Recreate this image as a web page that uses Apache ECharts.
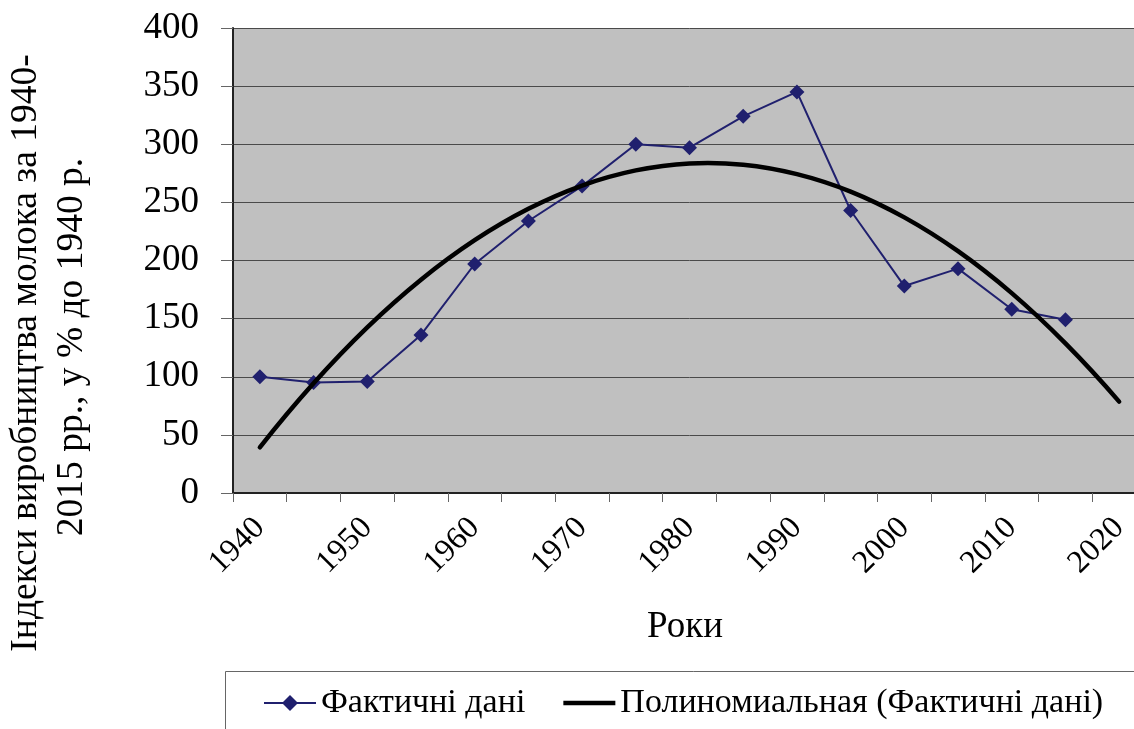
<!DOCTYPE html>
<html>
<head>
<meta charset="utf-8">
<script src="https://cdn.jsdelivr.net/npm/echarts@6/dist/echarts.min.js"></script>
<style>
html,body{margin:0;padding:0;overflow:hidden;background:#fff;}
</style>
</head>
<body>
<div id="main" style="width:1160px;height:729px"></div>
<script>
/* categories: 5-year steps, last one is the trend forecast */
var years = ['1940','1945','1950','1955','1960','1965','1970','1975','1980','1985','1990','1995','2000','2005','2010','2015','2020'];
/* actual indexes, % of 1940 */
var factValues = [100, 95, 96, 136, 197, 234, 264, 300, 297, 324, 345, 243, 178, 193, 158, 149, null];
/* polynomial trend */
var trendValues = [39.3, 94.4, 142.5, 183.5, 217.5, 244.5, 264.5, 277.5, 283.5, 282.4, 274.3, 259.3, 237.1, 208.0, 171.9, 128.7, 78.6];
/* y ticks */
var yMin = 0, yMax = 400, yStep = 50;

var factName = 'Фактичні дані';
var trendName = 'Полиномиальная (Фактичні дані)';
var serif = '"Liberation Serif", "DejaVu Serif", serif';

/* trend curve: cubic hermite through the trend points, placed by the axes */
var renderTrend = function(params, api){
	if(params.dataIndex!==0){
		return;
	}
	var pts = [];
	for (var i = 0; i < trendValues.length; i++) {
		pts.push(api.coord([i, trendValues[i]]));
	}
	var n = pts.length;
	var m = [];
	for (var i = 0; i < n; i++) {
		if (i == 0) {
			m.push((-3 * pts[0][1] + 4 * pts[1][1] - pts[2][1]) / 2);
		} else if (i == n - 1) {
			m.push((3 * pts[n-1][1] - 4 * pts[n-2][1] + pts[n-3][1]) / 2);
		} else {
			m.push((pts[i+1][1] - pts[i-1][1]) / 2);
		}
	}
	var d = 'M' + pts[0][0] + ',' + pts[0][1];
	for (var i = 0; i < n - 1; i++) {
		var h = pts[i+1][0] - pts[i][0];
		d += 'C' + (pts[i][0] + h / 3) + ',' + (pts[i][1] + m[i] / 3)
			+ ',' + (pts[i+1][0] - h / 3) + ',' + (pts[i+1][1] - m[i+1] / 3)
			+ ',' + pts[i+1][0] + ',' + pts[i+1][1];
	}
	return {
		type : 'path',
		shape : { pathData : d },
		style : { fill : 'none', stroke : '#000', lineWidth : 4.5, lineCap : 'round' }
	};
};

var chart = echarts.init(document.getElementById('main'));
var option = {
	animation : false,
	backgroundColor : '#ffffff',
	grid : {
		left : 233,
		top : 28,
		width : 913,
		height : 465,
		show : true,
		backgroundColor : '#c0c0c0',
		borderWidth : 0
	},
	legend : {
		left : 263,
		top : 683,
		padding : 0,
		itemWidth : 52,
		itemHeight : 20,
		itemGap : 38,
		textStyle : {
			fontFamily : serif,
			fontSize : 34,
			color : '#000',
			lineHeight : 40
		},
		data : [factName, { name : trendName, icon : 'path://M0,0H52V4.5H0Z' }]
	},
	xAxis : {
		type : 'category',
		data : years,
		boundaryGap : true,
		axisLine : {
			lineStyle : { color : '#222', width : 2 }
		},
		axisTick : {
			show : true,
			interval : 0,
			length : 9,
			lineStyle : { color : '#666', width : 1 }
		},
		axisLabel : {
			interval : 1,
			rotate : 45,
			margin : 30,
			fontFamily : serif,
			fontSize : 32,
			color : '#000'
		},
		splitLine : { show : false }
	},
	yAxis : {
		type : 'value',
		min : yMin,
		max : yMax,
		interval : yStep,
		axisLine : {
			show : true,
			lineStyle : { color : '#222', width : 2 }
		},
		axisTick : {
			show : true,
			length : 12,
			lineStyle : { color : '#666', width : 1 }
		},
		axisLabel : {
			margin : 34,
			fontFamily : serif,
			fontSize : 37,
			color : '#000'
		},
		splitLine : {
			show : true,
			lineStyle : { color : '#4a4a4a', width : 1 }
		}
	},
	series : [ {
		name : factName,
		type : 'line',
		data : factValues,
		symbol : 'diamond',
		symbolSize : 15,
		color : '#20206e',
		lineStyle : { color : '#20206e', width : 2 },
		itemStyle : { color : '#20206e' },
		z : 3
	}, {
		name : trendName,
		type : 'custom',
		data : trendValues.map(function(v, i){ return [i, v]; }),
		encode : { x : 0, y : 1 },
		renderItem : renderTrend,
		itemStyle : { color : '#000' },
		z : 4
	} ],
	graphic : [ {
		/* legend frame */
		type : 'rect',
		shape : { x : 225.5, y : 671.5, width : 1000, height : 100 },
		style : { fill : 'none', stroke : '#666', lineWidth : 1 },
		z : 1
	}, {
		type : 'text',
		x : 26,
		y : 353,
		rotation : Math.PI / 2,
		style : {
			text : 'Індекси виробництва молока за 1940-',
			font : '37.5px ' + serif,
			fill : '#000',
			align : 'center',
			verticalAlign : 'middle'
		}
	}, {
		type : 'text',
		x : 72,
		y : 347,
		rotation : Math.PI / 2,
		style : {
			text : '2015 рр., у % до 1940 р.',
			font : '37.5px ' + serif,
			fill : '#000',
			align : 'center',
			verticalAlign : 'middle'
		}
	}, {
		type : 'text',
		x : 685,
		y : 627,
		style : {
			text : 'Роки',
			font : '37px ' + serif,
			fill : '#000',
			align : 'center',
			verticalAlign : 'middle'
		}
	} ]
};
chart.setOption(option);
</script>
</body>
</html>
